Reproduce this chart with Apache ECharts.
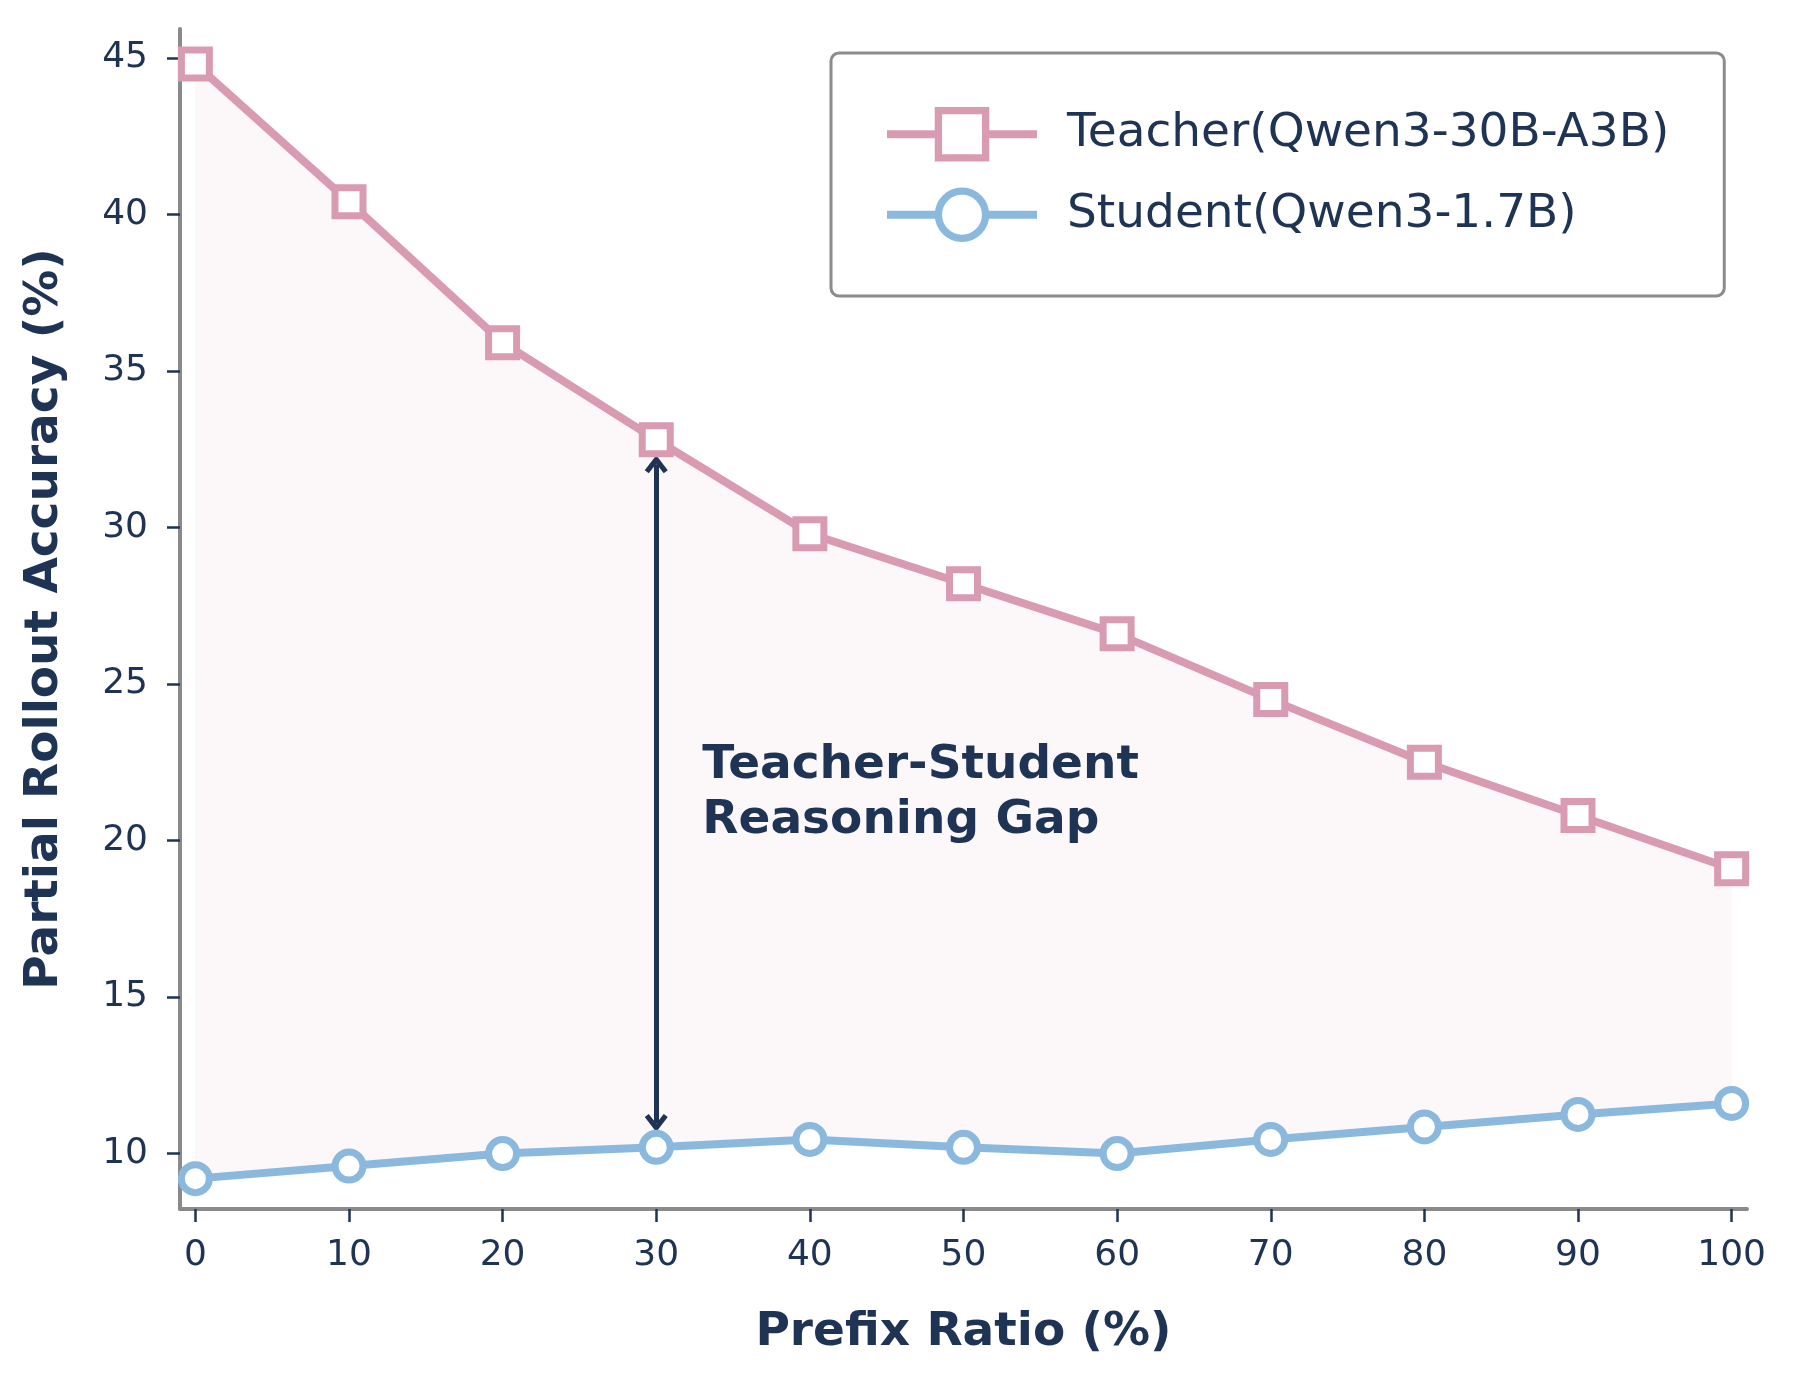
<!DOCTYPE html>
<html>
<head>
<meta charset="utf-8">
<script src="https://cdn.jsdelivr.net/npm/echarts@6/dist/echarts.min.js"></script>
<style>
  html, body { margin: 0; padding: 0; background: #fff; }
  #container { width: 1800px; height: 1379px; }
</style>
</head>
<body>
<div id="container"></div>
<script>
// data
var prefixRatio = [0, 10, 20, 30, 40, 50, 60, 70, 80, 90, 100];
var teacherAcc = [44.8, 40.4, 35.9, 32.8, 29.8, 28.2, 26.6, 24.5, 22.5, 20.8, 19.1];
var studentAcc = [9.2, 9.6, 10.0, 10.2, 10.45, 10.2, 10.0, 10.45, 10.85, 11.25, 11.6];
var xTicks = [0, 10, 20, 30, 40, 50, 60, 70, 80, 90, 100];
var yTicks = [10, 15, 20, 25, 30, 35, 40, 45];

var teacherName = 'Teacher(Qwen3-30B-A3B)';
var studentName = 'Student(Qwen3-1.7B)';
var gapText = ['Teacher-Student', 'Reasoning Gap'];
var arrowAt = 30;           // prefix ratio where the gap arrow sits
var gapTextAt = [33, 21.5]; // data position of the annotation text

var navy = '#1f3354';
var pink = '#d99bb2';
var blue = '#8bb9de';
var spine = '#8a8a8a';
var font = 'DejaVu Sans';
var chevron = 'path://M0,15 L11.5,0 L23,15 L19,18 L11.5,8.5 L4,18 Z';

function pairs(ys) {
    return prefixRatio.map(function (x, i) { return [x, ys[i]]; });
}
var ai = prefixRatio.indexOf(arrowAt);

var myChart = echarts.init(document.getElementById('container'));

var option = {
    animation: false,
    backgroundColor: '#fff',
    grid: { left: 180, right: 53, top: 29, bottom: 170 },
    legend: {
        orient: 'vertical',
        left: 831,
        top: 53,
        data: [
            { name: teacherName, itemStyle: { borderWidth: 7.3 }, lineStyle: { width: 8 } },
            { name: studentName, itemStyle: { borderWidth: 7.3 }, lineStyle: { width: 8 } }
        ],
        itemWidth: 150,
        itemHeight: 59,
        itemGap: 26,
        padding: [54, 55, 54, 52],
        backgroundColor: '#fff',
        borderColor: '#8c8c8c',
        borderWidth: 3,
        borderRadius: 8,
        textStyle: { fontFamily: font, fontSize: 47, color: navy, padding: [0, 0, 0, 25] }
    },
    xAxis: {
        type: 'value',
        min: -1,
        max: 101,
        splitLine: { show: false },
        axisLine: { show: true, onZero: false, lineStyle: { color: spine, width: 4 } },
        axisTick: { show: true, customValues: xTicks, length: 13, lineStyle: { color: navy, width: 2.5 } },
        axisLabel: { customValues: xTicks, margin: 29, fontFamily: font, fontSize: 36, color: navy },
        name: 'Prefix Ratio (%)',
        nameLocation: 'middle',
        nameGap: 100,
        nameTextStyle: { fontFamily: font, fontSize: 47, fontWeight: 'bold', color: navy }
    },
    yAxis: {
        type: 'value',
        min: 8.23,
        max: 45.92,
        splitLine: { show: false },
        axisLine: { show: true, onZero: false, lineStyle: { color: spine, width: 4 } },
        axisTick: { show: true, customValues: yTicks, length: 13, lineStyle: { color: navy, width: 2.5 } },
        axisLabel: { customValues: yTicks, margin: 32, fontFamily: font, fontSize: 36, color: navy },
        name: 'Partial Rollout Accuracy (%)',
        nameLocation: 'middle',
        nameGap: 112,
        nameTextStyle: { fontFamily: font, fontSize: 47, fontWeight: 'bold', color: navy }
    },
    series: [
        {
            // shaded band between teacher and student curves
            name: 'gapFill',
            type: 'custom',
            data: [[prefixRatio[0], teacherAcc[0]]],
            silent: true,
            z: 1,
            renderItem: function (params, api) {
                var pts = [];
                for (var i = 0; i < prefixRatio.length; i++) {
                    pts.push(api.coord([prefixRatio[i], teacherAcc[i]]));
                }
                for (var j = prefixRatio.length - 1; j >= 0; j--) {
                    pts.push(api.coord([prefixRatio[j], studentAcc[j]]));
                }
                return {
                    type: 'polygon',
                    shape: { points: pts },
                    style: { fill: pink, opacity: 0.08, stroke: pink, lineWidth: 1.5, strokeOpacity: 0.1 }
                };
            }
        },
        {
            name: 'gapArrow',
            type: 'line',
            data: [],
            z: 3,
            markLine: {
                silent: true,
                symbol: [chevron, chevron],
                symbolSize: [23, 18],
                label: { show: false },
                lineStyle: { color: navy, width: 5, type: 'solid' },
                itemStyle: { color: navy },
                data: [[
                    { coord: [arrowAt, studentAcc[ai] + 0.78] },
                    { coord: [arrowAt, teacherAcc[ai] - 0.78] }
                ]]
            }
        },
        {
            name: teacherName,
            type: 'line',
            data: pairs(teacherAcc),
            symbol: 'rect',
            symbolSize: 28,
            lineStyle: { color: pink, width: 8 },
            itemStyle: { color: '#fff', borderColor: pink, borderWidth: 7 },
            z: 5
        },
        {
            name: studentName,
            type: 'line',
            data: pairs(studentAcc),
            symbol: 'circle',
            symbolSize: 28,
            lineStyle: { color: blue, width: 8 },
            itemStyle: { color: '#fff', borderColor: blue, borderWidth: 7 },
            z: 5
        }
    ]
};

myChart.setOption(option);

// annotation text placed at a data position
var p = myChart.convertToPixel({ gridIndex: 0 }, gapTextAt);
myChart.setOption({
    graphic: [{
        type: 'text',
        x: p[0],
        y: p[1],
        z: 10,
        style: {
            text: gapText.join('\n'),
            font: 'bold 47px "DejaVu Sans"',
            fill: navy,
            align: 'left',
            verticalAlign: 'middle',
            lineHeight: 55
        }
    }]
});
</script>
</body>
</html>
